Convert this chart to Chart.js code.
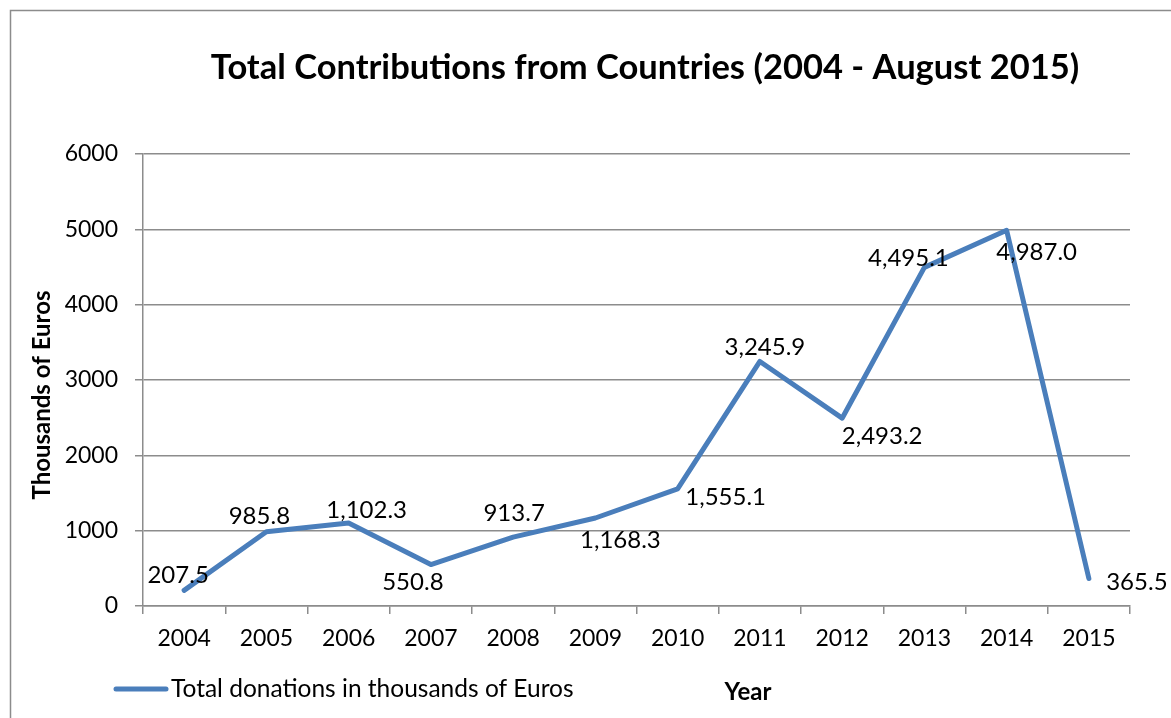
<!DOCTYPE html>
<html><head><meta charset="utf-8">
<script src="https://cdn.jsdelivr.net/npm/chart.js@4.4.1/dist/chart.umd.min.js"></script>
<style>html,body{margin:0;padding:0;background:#fff}#wrap{width:1171px;height:718px;position:relative}</style>
</head><body><div id="wrap"><canvas id="c" width="1171" height="718"></canvas></div>
<script>
const categories = ['2004','2005','2006','2007','2008','2009','2010','2011','2012','2013','2014','2015'];
const donations = [207.5, 985.8, 1102.3, 550.8, 913.7, 1168.3, 1555.1, 3245.9, 2493.2, 4495.1, 4987.0, 365.5];
const seriesName = 'Total donations in thousands of Euros';
const chartTitle = 'Total Contributions from Countries (2004 - August 2015)';
const yTitle = 'Thousands of Euros';
const xTitle = 'Year';

const FONT = 'Lato, "Open Sans", sans-serif';
const LINE = '#4A7EBB';
const GRID = '#8c8c8c';
// label offsets relative to point (dx, dy of text centre)
const labelOffsets = [[-6,-15],[-7,-15],[18,-13],[-18,18],[1,-24],[25,22],[48,8],[5,-14],[40,18],[-16,-9],[30,22],[48,4]];

function fmt(v){return v.toLocaleString('en-US',{minimumFractionDigits:1,maximumFractionDigits:1});}

const deco = {
  id:'deco',
  afterDraw(chart){
    const ctx = chart.ctx;
    ctx.save();
    ctx.strokeStyle = '#8c8c8c'; ctx.lineWidth = 1.5;
    ctx.strokeRect(10.5, 10.5, 1400, 900);
    ctx.fillStyle = '#000';
    ctx.textAlign = 'center'; ctx.textBaseline = 'alphabetic';
    ctx.font = 'bold 34.5px ' + FONT;
    ctx.fillText(chartTitle, 645, 79);
    ctx.save();
    ctx.translate(50, 395); ctx.rotate(-Math.PI/2);
    ctx.font = 'bold 24px ' + FONT;
    ctx.fillText(yTitle, 0, 0);
    ctx.restore();
    ctx.font = 'bold 24px ' + FONT;
    ctx.fillText(xTitle, 748, 700);
    ctx.strokeStyle = LINE; ctx.lineWidth = 5; ctx.lineCap = 'round';
    ctx.beginPath(); ctx.moveTo(116, 689); ctx.lineTo(166, 689); ctx.stroke();
    ctx.textAlign = 'left'; ctx.font = '24.5px ' + FONT;
    ctx.fillText(seriesName, 171, 697);
    const meta = chart.getDatasetMeta(0);
    ctx.textAlign = 'center'; ctx.textBaseline = 'middle';
    ctx.font = '24px ' + FONT;
    meta.data.forEach((pt, i) => {
      const o = labelOffsets[i];
      ctx.fillText(fmt(donations[i]), pt.x + o[0], pt.y + o[1]);
    });
    ctx.restore();
  }
};

new Chart(document.getElementById('c'), {
  type: 'line',
  data: { labels: categories, datasets: [{
    label: seriesName, data: donations,
    borderColor: LINE, borderWidth: 5, pointRadius: 0, pointHoverRadius: 0,
    tension: 0, fill: false, borderCapStyle: 'round', borderJoinStyle: 'round'
  }]},
  options: {
    responsive: false, animation: false, devicePixelRatio: 1,
    layout: { padding: { top: 154, right: 41, bottom: 0, left: 0 } },
    plugins: { legend: { display: false }, title: { display: false }, tooltip: { enabled: false } },
    scales: {
      x: {
        type: 'category', offset: true,
        grid: { offset: true, drawOnChartArea: false, color: GRID, tickLength: 8, lineWidth: 1.5 },
        border: { color: GRID, width: 1.5 },
        ticks: { color: '#000', font: { family: FONT, size: 23 }, padding: 11, maxRotation: 0 },
        afterFit: s => { s.height = 112; }
      },
      y: {
        min: 0, max: 6000,
        grid: { color: GRID, tickLength: 8, lineWidth: 1.5 },
        border: { color: GRID, width: 1.5 },
        ticks: { stepSize: 1000, color: '#000', font: { family: FONT, size: 23 }, padding: 17,
                 callback: v => String(v) },
        afterFit: s => { s.width = 143; }
      }
    }
  },
  plugins: [deco]
});
</script></body></html>
